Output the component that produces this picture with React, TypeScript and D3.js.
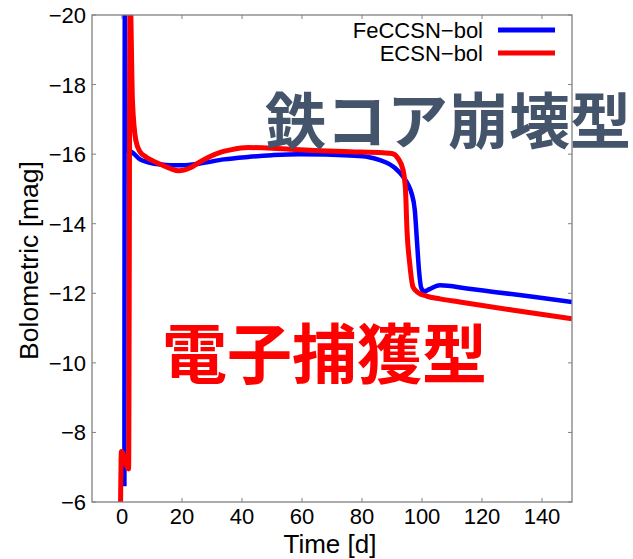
import React, { useEffect, useRef } from "react";
import * as d3 from "d3";

// tick values
const xTicks = [0, 20, 40, 60, 80, 100, 120, 140];
const yTicks = [-20, -18, -16, -14, -12, -10, -8, -6];

// FeCCSN bolometric light curve (time in days, magnitude)
const feTime = [0.8, 0.95, 1.15, 2.0, 3.1, 6, 9, 13, 16, 20, 26, 34, 42, 50, 59, 68, 76, 82, 86, 89, 91, 93.7, 95.5, 96.5, 97.6, 98.3, 99, 99.8, 100.8, 102.5, 104.5, 106, 115, 124, 137, 150];
const feMag = [-6.45, -21, -16.3, -16.1, -16.07, -15.85, -15.76, -15.7, -15.68, -15.68, -15.73, -15.85, -15.92, -15.97, -16.0, -15.99, -15.96, -15.92, -15.83, -15.72, -15.6, -15.35, -15.1, -14.88, -14.39, -13.53, -12.66, -12.14, -12.06, -12.12, -12.2, -12.23, -12.14, -12.04, -11.9, -11.75];

// ECSN bolometric light curve
const ecTime = [-0.5, -0.2, 2.2, 2.7, 2.95, 3.5, 4.6, 6, 8, 10, 13, 16, 19, 22.6, 26, 29, 33, 36, 42, 50, 56, 66, 76, 87, 90, 92, 93.7, 94.5, 95, 95.9, 97, 98.7, 101.5, 106, 112.6, 130, 150];
const ecMag = [-5.8, -7.45, -6.95, -21, -20, -17.5, -16.4, -16.07, -15.92, -15.82, -15.7, -15.59, -15.52, -15.6, -15.78, -15.92, -16.06, -16.12, -16.19, -16.17, -16.14, -16.1, -16.07, -16.04, -16.02, -15.88, -15.54, -14.97, -13.81, -12.86, -12.18, -12.02, -11.92, -11.84, -11.75, -11.52, -11.27];

const seriesNames = ["FeCCSN\u2212bol", "ECSN\u2212bol"];
const seriesColors = ["#0000ff", "#ff0000"];

const App = () => {
  const ref = useRef(null);

  useEffect(() => {
    const svg = d3.select(ref.current);
    svg.selectAll("*").remove();

    const width = 633;
    const height = 559;
    const margin = { top: 15, right: 61, bottom: 57, left: 92 };
    const font = "'Liberation Sans', Arial, sans-serif";
    const frameColor = "#808080";

    const x = d3.scaleLinear().domain([-10, 150]).range([margin.left, width - margin.right]);
    const y = d3.scaleLinear().domain([-20, -6]).range([margin.top, height - margin.bottom]);

    svg.attr("width", width).attr("height", height);

    svg
      .append("defs")
      .append("clipPath")
      .attr("id", "plot-clip")
      .append("rect")
      .attr("x", x(-10))
      .attr("y", y(-20))
      .attr("width", x(150) - x(-10))
      .attr("height", y(-6) - y(-20));

    // ticks (inward, mirrored)
    const tickLen = 4;
    const ticks = svg.append("g").attr("stroke", frameColor).attr("stroke-width", 1);
    xTicks.forEach((t) => {
      ticks.append("line").attr("x1", x(t)).attr("x2", x(t)).attr("y1", y(-6)).attr("y2", y(-6) - tickLen);
      ticks.append("line").attr("x1", x(t)).attr("x2", x(t)).attr("y1", y(-20)).attr("y2", y(-20) + tickLen);
    });
    yTicks.forEach((t) => {
      ticks.append("line").attr("x1", x(-10)).attr("x2", x(-10) + tickLen).attr("y1", y(t)).attr("y2", y(t));
      ticks.append("line").attr("x1", x(150)).attr("x2", x(150) - tickLen).attr("y1", y(t)).attr("y2", y(t));
    });

    // tick labels
    svg
      .append("g")
      .selectAll("text")
      .data(xTicks)
      .enter()
      .append("text")
      .attr("x", (d) => x(d))
      .attr("y", y(-6) + 22)
      .attr("text-anchor", "middle")
      .style("font-family", font)
      .style("font-size", "22px")
      .text((d) => String(d));

    svg
      .append("g")
      .selectAll("text")
      .data(yTicks)
      .enter()
      .append("text")
      .attr("x", x(-10) - 6)
      .attr("y", (d) => y(d) + 8)
      .attr("text-anchor", "end")
      .style("font-family", font)
      .style("font-size", "22px")
      .text((d) => "\u2212" + Math.abs(d));

    // axis titles
    svg
      .append("text")
      .attr("x", 330)
      .attr("y", 553)
      .attr("text-anchor", "middle")
      .style("font-family", font)
      .style("font-size", "26px")
      .text("Time [d]");

    svg
      .append("text")
      .attr("transform", `translate(38,${(y(-20) + y(-6)) / 2 + 2}) rotate(-90)`)
      .attr("text-anchor", "middle")
      .style("font-family", font)
      .style("font-size", "26.5px")
      .text("Bolometric [mag]");

    // curves
    const line = d3
      .line<number>()
      .x((d) => d[0])
      .y((d) => d[1])
      .curve(d3.curveMonotoneX);

    const feData = feTime.map((t, i) => [x(t), y(feMag[i])]);
    const ecData = ecTime.map((t, i) => [x(t), y(ecMag[i])]);

    const curves = svg.append("g").attr("clip-path", "url(#plot-clip)");
    curves
      .append("path")
      .datum(feData)
      .attr("fill", "none")
      .attr("stroke", seriesColors[0])
      .attr("stroke-width", 4.5)
      .attr("stroke-linejoin", "round")
      .attr("d", line);
    curves
      .append("path")
      .datum(ecData)
      .attr("fill", "none")
      .attr("stroke", seriesColors[1])
      .attr("stroke-width", 5)
      .attr("stroke-linejoin", "round")
      .attr("d", line);

    // frame
    svg
      .append("rect")
      .attr("x", x(-10))
      .attr("y", y(-20))
      .attr("width", x(150) - x(-10))
      .attr("height", y(-6) - y(-20))
      .attr("fill", "none")
      .attr("stroke", frameColor)
      .attr("stroke-width", 1.3);

    // legend
    seriesNames.forEach((name, i) => {
      const ly = 30 + i * 23;
      svg
        .append("text")
        .attr("x", 483)
        .attr("y", ly + 8)
        .attr("text-anchor", "end")
        .style("font-family", font)
        .style("font-size", "22px")
        .text(name);
      svg
        .append("line")
        .attr("x1", 498)
        .attr("x2", 555)
        .attr("y1", ly)
        .attr("y2", ly)
        .attr("stroke", seriesColors[i])
        .attr("stroke-width", 5);
    });

    // annotations
    svg
      .append("text")
      .attr("x", 265)
      .attr("y", 144)
      .style("font-family", "'Noto Sans CJK JP', sans-serif")
      .style("font-weight", 700)
      .style("font-size", "61px")
      .attr("fill", "#44546a")
      .text("鉄コア崩壊型");

    svg
      .append("text")
      .attr("x", 162)
      .attr("y", 378)
      .style("font-family", "'Noto Sans CJK JP', sans-serif")
      .style("font-weight", 700)
      .style("font-size", "65px")
      .attr("fill", "#ff0000")
      .text("電子捕獲型");
  }, []);

  return (
    <svg
      ref={ref}
      style={{ position: "absolute", left: 0, top: 0, background: "#fff" }}
    />
  );
};

export default App;
